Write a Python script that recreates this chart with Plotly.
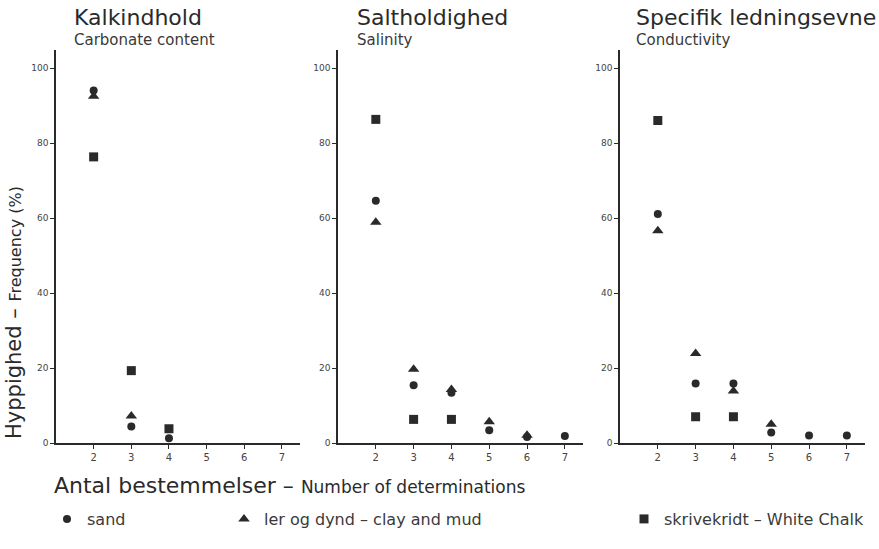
import plotly.graph_objects as go

# ---- data ----
determinations = [2, 3, 4, 5, 6, 7]
x_tick_labels = ["2", "3", "4", "5", "6", "7"]
y_tick_values = [0, 20, 40, 60, 80, 100]

panel_titles_da = ["Kalkindhold", "Saltholdighed", "Specifik ledningsevne"]
panel_titles_en = ["Carbonate content", "Salinity", "Conductivity"]

series_names = ["sand", "ler og dynd \u2013 clay and mud", "skrivekridt \u2013 White Chalk"]

carbonate_sand = [94.0, 4.4, 1.3, None, None, None]
carbonate_clay = [92.5, 7.2, None, None, None, None]
carbonate_chalk = [76.3, 19.3, 3.8, None, None, None]

salinity_sand = [64.6, 15.4, 13.4, 3.4, 1.6, 1.9]
salinity_clay = [58.9, 19.7, 14.3, 5.7, 2.1, None]
salinity_chalk = [86.3, 6.3, 6.3, None, None, None]

conductivity_sand = [61.1, 15.9, 15.9, 2.8, 2.0, 2.0]
conductivity_clay = [56.6, 23.9, 13.9, 5.0, None, None]
conductivity_chalk = [86.0, 7.0, 7.0, None, None, None]

panels = [
    [carbonate_sand, carbonate_clay, carbonate_chalk],
    [salinity_sand, salinity_clay, salinity_chalk],
    [conductivity_sand, conductivity_clay, conductivity_chalk],
]

# ---- style ----
INK = "#2a2a2a"
FONT = "DejaVu Sans"
W, H = 879, 549
T, B = 50, 106
PH = H - T - B
symbols = ["circle", "triangle-up", "square"]
sizes = [8, 10, 9]
legend_ids = ["legend", "legend2", "legend3"]


def py(pix):
    """pixel row -> paper y (paper spans the plot area)"""
    return (H - B - pix) / PH


x_domains = [(56 / W, 300 / W), (338 / W, 583 / W), (620 / W, 865 / W)]
x_range = [1.0, 7.48]
y_range = [0, 104.8]

fig = go.Figure()

for p, series in enumerate(panels):
    xa = "x" if p == 0 else f"x{p + 1}"
    ya = "y" if p == 0 else f"y{p + 1}"
    for s, vals in enumerate(series):
        fig.add_trace(go.Scatter(
            x=determinations, y=vals, mode="markers",
            xaxis=xa, yaxis=ya,
            name=series_names[s],
            legend=legend_ids[s],
            showlegend=(p == 0),
            cliponaxis=False,
            marker=dict(symbol=symbols[s], size=sizes[s], color=INK,
                        line=dict(width=0)),
        ))

axis_common = dict(
    showgrid=False, zeroline=False, showline=True,
    linecolor=INK, linewidth=1.5, ticks="outside", ticklen=4,
    tickcolor=INK, tickwidth=1,
)

layout = dict(
    width=W, height=H,
    paper_bgcolor="white", plot_bgcolor="white",
    margin=dict(l=0, r=0, t=T, b=B),
    font=dict(family=FONT, color=INK),
)

for p in range(3):
    xk = "xaxis" if p == 0 else f"xaxis{p + 1}"
    yk = "yaxis" if p == 0 else f"yaxis{p + 1}"
    ya = "y" if p == 0 else f"y{p + 1}"
    xa = "x" if p == 0 else f"x{p + 1}"
    layout[xk] = dict(axis_common, domain=list(x_domains[p]), range=x_range,
                      tickvals=determinations, ticktext=x_tick_labels,
                      tickfont=dict(size=10, color="#444"), anchor=ya)
    layout[yk] = dict(axis_common, domain=[0, 1], range=y_range,
                      tickvals=y_tick_values,
                      tickfont=dict(size=9, color="#444"), anchor=xa)

fig.update_layout(**layout)

annotations = []
title_x = [72, 355, 634]
for p in range(3):
    annotations.append(dict(
        text=panel_titles_da[p], xref="paper", yref="paper",
        x=title_x[p] / W, y=py(18), xanchor="left", yanchor="middle",
        showarrow=False, font=dict(size=22, color=INK, family=FONT)))
    annotations.append(dict(
        text=panel_titles_en[p], xref="paper", yref="paper",
        x=title_x[p] / W, y=py(40), xanchor="left", yanchor="middle",
        showarrow=False, font=dict(size=15, color="#3a3a3a", family=FONT)))

annotations.append(dict(
    text="Hyppighed \u2013 <span style='font-size:16px'>Frequency (%)</span>",
    xref="paper", yref="paper", x=14 / W, y=py(313),
    xanchor="center", yanchor="middle", textangle=-90, showarrow=False,
    font=dict(size=21, color=INK, family=FONT)))

annotations.append(dict(
    text="Antal bestemmelser \u2013 <span style='font-size:17px'>Number of determinations</span>",
    xref="paper", yref="paper", x=52 / W, y=py(486),
    xanchor="left", yanchor="middle", showarrow=False,
    font=dict(size=22, color=INK, family=FONT)))

fig.update_layout(annotations=annotations)

leg_common = dict(orientation="h", yanchor="middle", y=py(519),
                  xanchor="left", itemwidth=30, bgcolor="rgba(0,0,0,0)",
                  font=dict(size=16, color="#3a3a3a", family=FONT))
fig.update_layout(
    legend=dict(leg_common, x=47 / W),
    legend2=dict(leg_common, x=224 / W),
    legend3=dict(leg_common, x=624 / W),
)

fig.write_html("out.html")
